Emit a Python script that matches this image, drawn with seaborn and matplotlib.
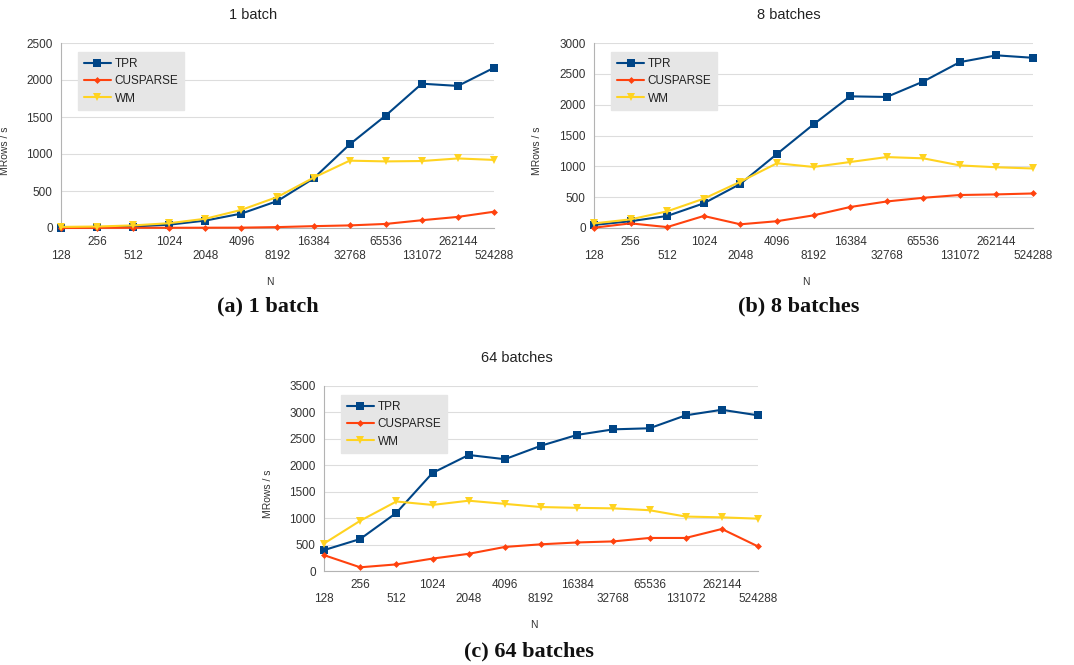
import numpy as np
import pandas as pd
import matplotlib
matplotlib.use("Agg")
import matplotlib.pyplot as plt
import seaborn as sns

N = [128, 256, 512, 1024, 2048, 4096, 8192, 16384, 32768, 65536, 131072, 262144, 524288]
series_names = ["TPR", "CUSPARSE", "WM"]

tpr_1 = [5, 10, 20, 45, 100, 195, 365, 670, 1130, 1520, 1950, 1920, 2165]
cus_1 = [0, 2, 3, 3, 4, 5, 12, 25, 35, 55, 105, 150, 220]
wm_1 = [15, 20, 35, 65, 125, 245, 420, 680, 910, 900, 905, 940, 920]

tpr_8 = [50, 110, 195, 400, 715, 1200, 1680, 2135, 2125, 2375, 2690, 2800, 2760]
cus_8 = [5, 75, 15, 195, 60, 110, 205, 340, 430, 490, 535, 545, 560]
wm_8 = [75, 140, 270, 475, 750, 1050, 990, 1070, 1150, 1130, 1015, 985, 965]

tpr_64 = [395, 605, 1100, 1855, 2195, 2115, 2370, 2575, 2680, 2700, 2945, 3050, 2945]
cus_64 = [300, 70, 125, 235, 325, 455, 505, 540, 560, 625, 625, 795, 465]
wm_64 = [520, 950, 1315, 1250, 1330, 1270, 1210, 1195, 1185, 1150, 1030, 1015, 990]

titles = ["1 batch", "8 batches", "64 batches"]
captions = ["(a) 1 batch", "(b) 8 batches", "(c) 64 batches"]
y_max = [2500, 3000, 3500]
y_step = 500

sns.set_theme(style="white")
plt.rcParams["font.family"] = ["Liberation Sans", "DejaVu Sans"]

colors = {"TPR": "#004586", "CUSPARSE": "#ff420e", "WM": "#ffd320"}
markers = {"TPR": "s", "CUSPARSE": "D", "WM": "v"}
msizes = {"TPR": 5.5, "CUSPARSE": 3.5, "WM": 6}

W, H = 1074, 665
fig = plt.figure(figsize=(W / 100, H / 100), dpi=100)

# axes rectangles in pixels (left, top, right, bottom)
rects = [(61, 43, 494, 228), (594, 43, 1033, 228), (324, 386, 758, 571)]
caption_pos = [(268, 306), (799, 306), (529, 651)]

data_sets = [(tpr_1, cus_1, wm_1), (tpr_8, cus_8, wm_8), (tpr_64, cus_64, wm_64)]

for k, (l, t, r, b) in enumerate(rects):
    ax = fig.add_axes([l / W, (H - b) / H, (r - l) / W, (b - t) / H])
    vals = data_sets[k]
    df = pd.DataFrame({
        "N": N * 3,
        "value": list(vals[0]) + list(vals[1]) + list(vals[2]),
        "series": sum([[s] * len(N) for s in series_names], []),
    })
    for s in series_names:
        sub = df[df["series"] == s]
        sns.lineplot(data=sub, x="N", y="value", ax=ax, color=colors[s],
                     marker=markers[s], markersize=msizes[s], markeredgewidth=0,
                     linewidth=1.5, label=s, clip_on=False, zorder=3)
    ax.set_xscale("log", base=2)
    ax.set_xlim(N[0], N[-1])
    ax.set_ylim(0, y_max[k])
    ax.set_yticks(np.arange(0, y_max[k] + 1, y_step))
    ax.set_yticklabels([str(v) for v in np.arange(0, y_max[k] + 1, y_step)], fontsize=8.5)
    ax.set_xticks(N)
    ax.set_xticklabels([f"\n{n}" if i % 2 == 0 else f"{n}" for i, n in enumerate(N)],
                       fontsize=8.5, linespacing=1.15)
    ax.xaxis.set_minor_locator(matplotlib.ticker.NullLocator())
    ax.grid(axis="y", color="#dddddd", linewidth=0.8)
    ax.grid(axis="x", visible=False)
    for sp in ["top", "right"]:
        ax.spines[sp].set_visible(False)
    for sp in ["left", "bottom"]:
        ax.spines[sp].set_color("#b3b3b3")
        ax.spines[sp].set_linewidth(0.8)
    ax.tick_params(axis="both", which="major", length=4, width=0.8, pad=2)
    ax.tick_params(axis="x", colors="#b3b3b3", labelcolor="#333333")
    ax.tick_params(axis="y", colors="#b3b3b3", labelcolor="#333333")
    ax.set_xlabel("N", fontsize=7.5, color="#333333")
    ax.set_ylabel("MRows / s", fontsize=7.5, color="#333333")
    ax.xaxis.set_label_coords(0.483, -0.265)
    ax.yaxis.set_label_coords(-0.118, 0.42)
    ax.text(0.444, 1.15, titles[k], transform=ax.transAxes, ha="center", va="center",
            fontsize=10.5, color="#222222")
    leg = ax.legend(loc="upper left", bbox_to_anchor=(0.039, 0.951), borderaxespad=0,
                    frameon=True, fontsize=8.5, handlelength=2.3, borderpad=0.5,
                    labelspacing=0.45, handletextpad=0.3, fancybox=False)
    leg.get_frame().set_facecolor("#e6e6e6")
    leg.get_frame().set_edgecolor("#e6e6e6")
    leg.get_frame().set_alpha(1)
    for txt in leg.get_texts():
        txt.set_color("#222222")

for (cx, cy), cap in zip(caption_pos, captions):
    fig.text(cx / W, (H - cy) / H, cap, ha="center", va="center", fontsize=16,
             fontweight="bold", family=["Liberation Serif", "DejaVu Serif"], color="#111111")

fig.savefig("out.png", dpi=100)
